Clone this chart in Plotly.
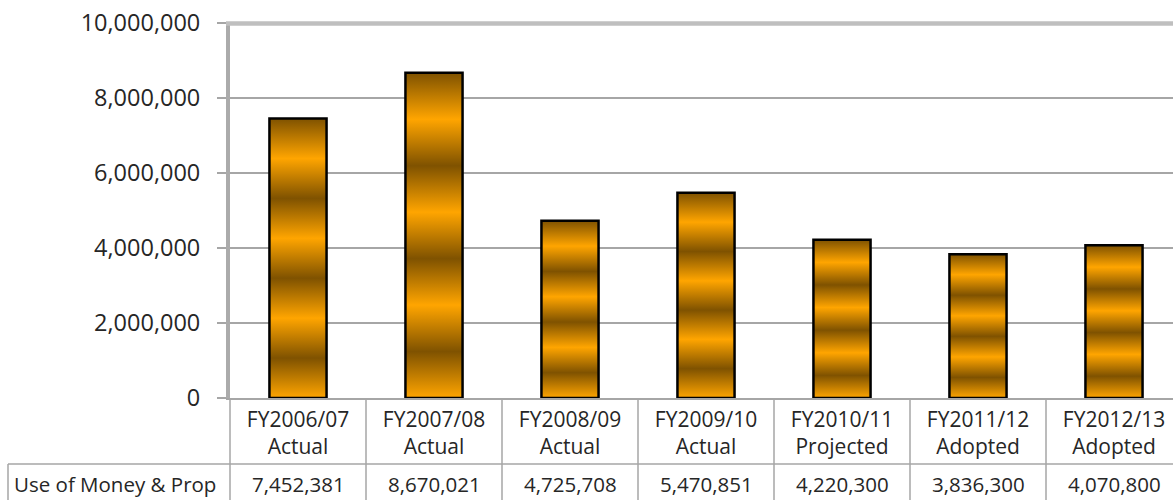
import plotly.graph_objects as go

# ---------------- data ----------------
categories = ["FY2006/07", "FY2007/08", "FY2008/09", "FY2009/10",
              "FY2010/11", "FY2011/12", "FY2012/13"]
statuses = ["Actual", "Actual", "Actual", "Actual",
            "Projected", "Adopted", "Adopted"]
values = [7452381, 8670021, 4725708, 5470851, 4220300, 3836300, 4070800]
series_name = "Use of Money & Prop"
y_ticks = [0, 2000000, 4000000, 6000000, 8000000, 10000000]

# ---------------- layout geometry ----------------
W, H = 1173, 500
L, T, B = 230, 23, 102
plot_w = W - L
plot_h = H - T - B
col_px = 136                      # width of one category column in px
x_max = -0.5 + plot_w / col_px    # chart is clipped on the right


def py(pix_y):
    return (H - B - pix_y) / plot_h


def px(pix_x):
    return (pix_x - L) / plot_w


FONT = "Open Sans"
TXT = "#262626"
GRID = "#A6A6A6"
ORANGE = "#FFA500"
DARK = "#7F5200"
stops = [[k / 7, ORANGE if k % 2 == 0 else DARK] for k in range(8)]
half = 0.21

fig = go.Figure()

for i, v in enumerate(values):
    xs = [i - half, i + half, i + half, i - half, i - half]
    ys = [0, 0, v, v, 0]
    fig.add_trace(go.Scatter(
        x=xs, y=ys, mode="lines", fill="toself",
        fillgradient=dict(type="vertical", colorscale=stops, start=0, stop=v),
        line=dict(color="black", width=2.5),
        hoverinfo="skip", showlegend=False, name=categories[i]))

shapes = []
# thick top wall line at the max of the axis
shapes.append(dict(type="line", xref="paper", yref="paper", x0=px(226), x1=1,
                   y0=py(23.5), y1=py(23.5),
                   line=dict(color="#BFBFBF", width=4.5)))
# data table grid
shapes.append(dict(type="line", xref="paper", yref="paper",
                   x0=px(8), x1=1, y0=py(464), y1=py(464),
                   line=dict(color=GRID, width=1.5)))
shapes.append(dict(type="line", xref="paper", yref="paper",
                   x0=px(8), x1=px(8), y0=py(464), y1=py(520),
                   line=dict(color=GRID, width=1.5)))
shapes.append(dict(type="line", xref="paper", yref="paper",
                   x0=0, x1=0, y0=0, y1=py(520),
                   line=dict(color=GRID, width=1.5)))
for i in range(1, len(categories)):
    shapes.append(dict(type="line", xref="x", yref="paper",
                       x0=i - 0.5, x1=i - 0.5, y0=0, y1=py(520),
                       line=dict(color=GRID, width=1.5)))

annotations = [dict(xref="paper", yref="paper", x=px(12), y=py(484),
                    xanchor="left", yanchor="middle", showarrow=False,
                    text=series_name, font=dict(family=FONT, size=20.5, color=TXT))]
for i, v in enumerate(values):
    annotations.append(dict(xref="x", yref="paper", x=i, y=py(484),
                            xanchor="center", yanchor="middle", showarrow=False,
                            text=f"{v:,}", font=dict(family=FONT, size=20.5, color=TXT)))

fig.update_layout(
    width=W, height=H,
    margin=dict(l=L, r=0, t=T, b=B, pad=0),
    paper_bgcolor="white", plot_bgcolor="white",
    font=dict(family=FONT, color=TXT),
    shapes=shapes, annotations=annotations,
    showlegend=False,
)
fig.update_xaxes(
    range=[-0.5, x_max], tickmode="array",
    tickvals=list(range(len(categories))),
    ticktext=[f"{c}<br>{s}" for c, s in zip(categories, statuses)],
    tickfont=dict(family=FONT, size=21, color=TXT),
    ticks="", showgrid=False, zeroline=False, ticklabelstandoff=2,
    showline=True, linecolor=GRID, linewidth=1.5,
    fixedrange=True,
)
fig.update_yaxes(
    range=[0, y_ticks[-1]], tickmode="array", tickvals=y_ticks,
    tickformat=",d",
    tickfont=dict(family=FONT, size=23.5, color=TXT),
    ticks="outside", ticklen=9, tickcolor=GRID, tickwidth=1.5,
    ticklabelstandoff=12,
    showgrid=True, gridcolor=GRID, gridwidth=1.5,
    zeroline=False, showline=True, linecolor="#ABABAB", linewidth=4,
    fixedrange=True,
)

fig.write_html("out.html", config={"displayModeBar": False})
